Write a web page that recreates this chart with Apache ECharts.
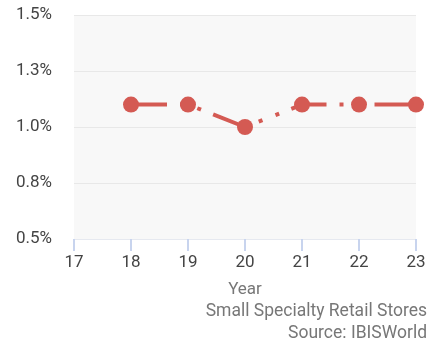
<!DOCTYPE html>
<html>
<head>
<meta charset="utf-8">
<script src="https://cdn.jsdelivr.net/npm/echarts@6/dist/echarts.min.js"></script>
<style>
  html, body { margin: 0; padding: 0; background: #fff; }
  #chart { width: 443px; height: 345px; }
</style>
</head>
<body>
<div id="chart"></div>
<script>
// years (two-digit) and growth values in %
const years = [18, 19, 20, 21, 22, 23];
const growth = [1.1, 1.1, 1.0, 1.1, 1.1, 1.1];
const xTicks = [17, 23];
const yTicks = [0.5, 1.5, 0.25];

const chart = echarts.init(document.getElementById('chart'));

const option = {
  animation: false,
  textStyle: { fontFamily: 'Roboto' },
  grid: {
    left: 74, right: 27, top: 15, bottom: 106,
    show: true,
    backgroundColor: '#f8f8f8',
    borderWidth: 0
  },
  xAxis: {
    type: 'value',
    min: xTicks[0],
    max: xTicks[1],
    interval: 1,
    name: 'Year',
    nameLocation: 'middle',
    nameGap: 42,
    nameTextStyle: { color: '#777', fontSize: 17 },
    axisLine: { show: true, lineStyle: { color: '#e6e9f0', width: 1 } },
    axisTick: { show: true, length: 12, lineStyle: { color: '#c8d4ee', width: 2 } },
    axisLabel: { color: '#444', fontSize: 17, margin: 15 },
    splitLine: { show: false }
  },
  yAxis: {
    type: 'value',
    min: yTicks[0],
    max: yTicks[1],
    interval: yTicks[2],
    axisLine: { show: false },
    axisTick: { show: false },
    axisLabel: {
      color: '#444', fontSize: 17, margin: 22,
      formatter: v => v.toFixed(1) + '%'
    },
    splitLine: { lineStyle: { color: '#e8e8e8', width: 1 } }
  },
  series: [{
    type: 'line',
    data: years.map((y, i) => [y, growth[i]]),
    symbol: 'circle',
    symbolSize: 16,
    itemStyle: { color: '#d45a53' },
    lineStyle: { color: '#d45a53', width: 4, type: [36, 13, 4, 14, 4, 13], cap: 'butt' }
  }],
  graphic: [
    {
      type: 'text', right: 16, top: 303,
      style: { text: 'Small Specialty Retail Stores', fill: '#777', font: '17.5px Roboto', textAlign: 'right' }
    },
    {
      type: 'text', right: 16, top: 325,
      style: { text: 'Source: IBISWorld', fill: '#777', font: '17.5px Roboto', textAlign: 'right' }
    }
  ]
};

chart.setOption(option);
</script>
</body>
</html>
